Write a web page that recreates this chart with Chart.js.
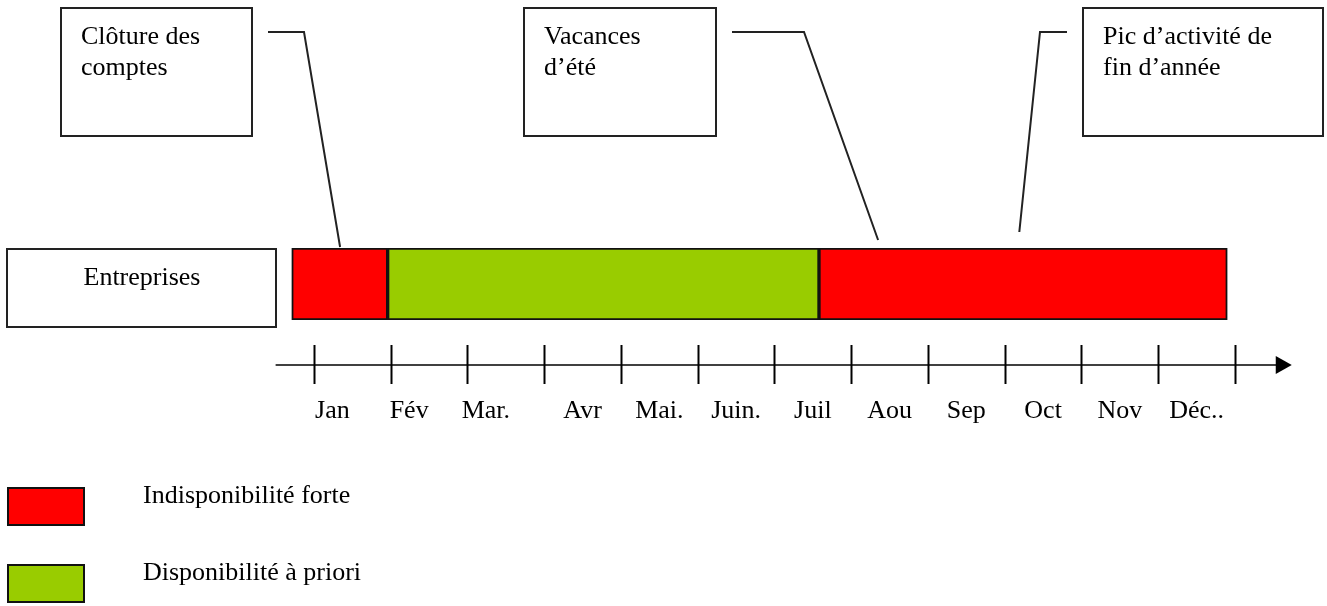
<!DOCTYPE html>
<html lang="fr">
<head>
<meta charset="utf-8">
<title>Disponibilité des entreprises</title>
<script src="https://cdn.jsdelivr.net/npm/chart.js@4.4.1/dist/chart.umd.min.js"></script>
<style>
  html, body { margin: 0; padding: 0; background: #fff; }
  #wrap { width: 1327px; height: 606px; position: relative; }
</style>
</head>
<body>
<div id="wrap"><canvas id="frise"></canvas></div>
<script>
const months = ['Jan', 'Fév', 'Mar.', 'Avr', 'Mai.', 'Juin.', 'Juil', 'Aou', 'Sep', 'Oct', 'Nov', 'Déc..'];
const rows = ['Entreprises'];
const periodStart = [-0.29, 0.96, 6.58];
const periodEnd = [0.96, 6.58, 11.9];
const periodLevel = [0, 1, 0];
const legendLabels = ['Indisponibilité forte', 'Disponibilité à priori'];
const legendColors = ['#ff0000', '#99cc00'];
const calloutTexts = [['Clôture des', 'comptes'], ['Vacances', 'd’été'], ['Pic d’activité de', 'fin d’année']];
const calloutTarget = [0.34, 7.35, 9.19];

const FONT = '26px "Liberation Serif", "Times New Roman", serif';

// mise en page des bulles (pixels)
const calloutBoxes = [
    {x: 61, y: 8, w: 191, h: 128, line: [268, 304], endY: 247},
    {x: 524, y: 8, w: 192, h: 128, line: [732, 804], endY: 240},
    {x: 1083, y: 8, w: 240, h: 128, line: [1067, 1040], endY: 232}
];

const datasets = periodStart.map((s, i) => ({
    label: legendLabels[periodLevel[i]],
    data: [[s, periodEnd[i]]],
    backgroundColor: legendColors[periodLevel[i]],
    borderColor: '#111',
    borderWidth: 2,
    borderSkipped: false,
    grouped: false,
    barPercentage: 1,
    categoryPercentage: 1
}));

const decor = {
    id: 'decor',
    afterDraw(chart) {
        const ctx = chart.ctx;
        const x = chart.scales.x;
        ctx.save();
        ctx.font = FONT;
        ctx.fillStyle = '#000';
        ctx.strokeStyle = '#222';
        ctx.textBaseline = 'alphabetic';

        // bulles + traits de rappel
        calloutBoxes.forEach((b, i) => {
            ctx.lineWidth = 2;
            ctx.strokeRect(b.x, b.y, b.w, b.h);
            ctx.textAlign = 'left';
            calloutTexts[i].forEach((t, k) => ctx.fillText(t, b.x + 20, 44 + k * 31));
            ctx.lineWidth = 2;
            ctx.beginPath();
            ctx.moveTo(b.line[0], 32);
            ctx.lineTo(b.line[1], 32);
            ctx.lineTo(x.getPixelForValue(calloutTarget[i]), b.endY);
            ctx.stroke();
        });

        // case "Entreprises"
        ctx.lineWidth = 2;
        ctx.strokeRect(7, 249, 269, 78);
        ctx.textAlign = 'center';
        ctx.fillText(rows[0], 142, 285);

        // axe du temps
        const axisY = 365;
        const tip = x.getPixelForValue(12.74);
        ctx.strokeStyle = '#000';
        ctx.lineWidth = 1.5;
        ctx.beginPath();
        ctx.moveTo(x.getPixelForValue(-0.5), axisY);
        ctx.lineTo(tip - 14, axisY);
        ctx.stroke();
        ctx.fillStyle = '#000';
        ctx.beginPath();
        ctx.moveTo(tip, axisY);
        ctx.lineTo(tip - 16, axisY - 9);
        ctx.lineTo(tip - 16, axisY + 9);
        ctx.closePath();
        ctx.fill();

        ctx.lineWidth = 2;
        for (let m = 0; m <= months.length; m++) {
            const px = Math.round(x.getPixelForValue(m)) + 0.5;
            ctx.beginPath();
            ctx.moveTo(px, 345);
            ctx.lineTo(px, 384);
            ctx.stroke();
        }
        months.forEach((lab, m) => {
            // les trois premiers libellés sont décalés vers la gauche
            const shift = m < 3 ? 0.24 : 0.5;
            ctx.fillText(lab, x.getPixelForValue(m + shift), 418);
        });

        // légende
        ctx.textAlign = 'left';
        legendLabels.forEach((lab, i) => {
            const top = 487 + i * 77;
            ctx.fillStyle = legendColors[i];
            ctx.fillRect(8, top + 1, 76, 37);
            ctx.strokeStyle = '#111';
            ctx.lineWidth = 2;
            ctx.strokeRect(8, top + 1, 76, 37);
            ctx.fillStyle = '#000';
            ctx.fillText(lab, 143, top + 16);
        });
        ctx.restore();
    }
};

new Chart(document.getElementById('frise'), {
    type: 'bar',
    data: { labels: rows, datasets: datasets },
    options: {
        indexAxis: 'y',
        responsive: true,
        maintainAspectRatio: false,
        animation: false,
        layout: { padding: { top: 248, bottom: 286, left: 0, right: 0 } },
        scales: {
            x: { type: 'linear', min: -4.091, max: 13.199, display: false },
            y: { display: false }
        },
        plugins: {
            legend: { display: false },
            tooltip: { enabled: false }
        }
    },
    plugins: [decor]
});
</script>
</body>
</html>
